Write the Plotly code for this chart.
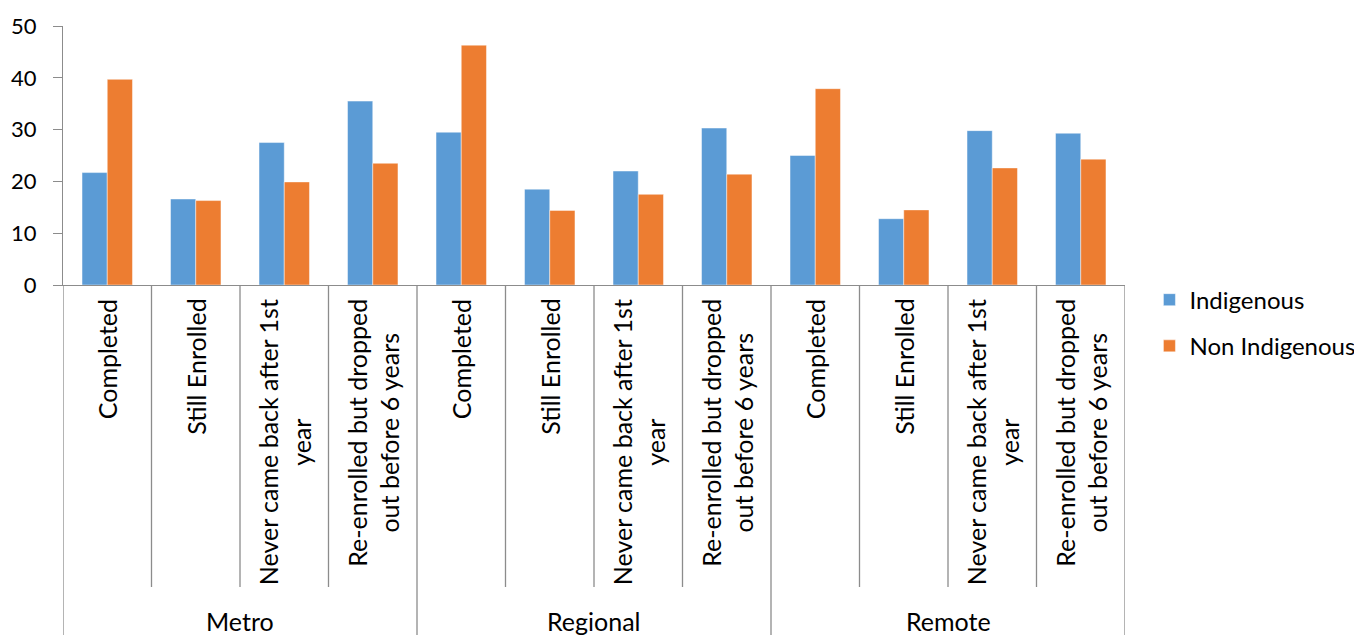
import plotly.graph_objects as go

# ── Data ────────────────────────────────────────────────────────────────────
groups = ["Metro", "Regional", "Remote"]
outcomes = [
    "Completed",
    "Still Enrolled",
    "Never came back after 1st<br>year",
    "Re-enrolled but dropped<br>out before 6 years",
]
indigenous = [21.7, 16.6, 27.5, 35.5, 29.5, 18.5, 22.0, 30.3, 25.0, 12.8, 29.8, 29.3]
non_indigenous = [39.7, 16.3, 19.9, 23.5, 46.3, 14.4, 17.5, 21.4, 37.9, 14.5, 22.6, 24.3]
y_ticks = [0, 10, 20, 30, 40, 50]

FONT = "Lato"
FS = 25
AXIS_COL = "#8c8c8c"

keys = [f"{g}|{o}" for g in groups for o in outcomes]

fig = go.Figure()
fig.add_trace(go.Bar(
    name="Indigenous", x=keys, y=indigenous, legendgroup="a",
    marker=dict(color="#5B9BD5", line=dict(color="rgba(255,255,255,0.45)", width=1)),
))
fig.add_trace(go.Bar(
    name="Non Indigenous", x=keys, y=non_indigenous, legendgroup="b",
    marker=dict(color="#ED7D31", line=dict(color="rgba(255,255,255,0.45)", width=1)),
))

# category labels (rotated) and group labels
for k in keys:
    g, o = k.split("|")
    fig.add_annotation(
        x=k, xref="x", y=0, yref="paper", yanchor="top", yshift=-12,
        text=o, textangle=-90, align="center", showarrow=False,
        font=dict(family=FONT, size=FS, color="#000"),
    )
n_out = len(outcomes)
for gi, g in enumerate(groups):
    fig.add_annotation(
        x=gi * n_out + (n_out - 1) / 2, xref="x", y=0, yref="paper",
        yanchor="middle", yshift=-336, text=g, showarrow=False,
        font=dict(family=FONT, size=FS, color="#000"),
    )

# divider lines under the axis
plot_h = 259
for i in range(len(keys) + 1):
    is_group = i % n_out == 0
    depth = 360 if is_group else 302
    fig.add_shape(
        type="line", xref="x", yref="paper",
        x0=i - 0.5, x1=i - 0.5, y0=0, y1=-depth / plot_h,
        line=dict(color=AXIS_COL, width=1.3),
    )

# page body adds 8px offset, so margins are trimmed by 8px
fig.update_layout(
    width=1362, height=635,
    margin=dict(l=55, r=245, t=18, b=358, autoexpand=False),
    paper_bgcolor="white", plot_bgcolor="white",
    barmode="group", bargap=0.43, bargroupgap=0,
    font=dict(family=FONT, size=FS, color="#000"),
    showlegend=True,
    legend=dict(
        x=1.023, y=-0.147, xanchor="left", yanchor="middle",
        font=dict(family=FONT, size=24, color="#000"),
        tracegroupgap=12, bgcolor="rgba(0,0,0,0)",
    ),
    xaxis=dict(
        type="category", range=[-0.5, len(keys) - 0.5],
        showticklabels=False, ticks="", showgrid=False, automargin=False,
        showline=True, linecolor=AXIS_COL, linewidth=1.3, zeroline=False,
    ),
    yaxis=dict(
        range=[0, 50], tickvals=y_ticks, ticks="outside", ticklen=9,
        tickcolor=AXIS_COL, tickwidth=1.3, showgrid=False, automargin=False,
        showline=True, linecolor=AXIS_COL, linewidth=1.3, zeroline=False,
        ticklabelstandoff=12,
        tickfont=dict(family=FONT, size=22, color="#000"),
    ),
)

fig.write_html("out.html")
